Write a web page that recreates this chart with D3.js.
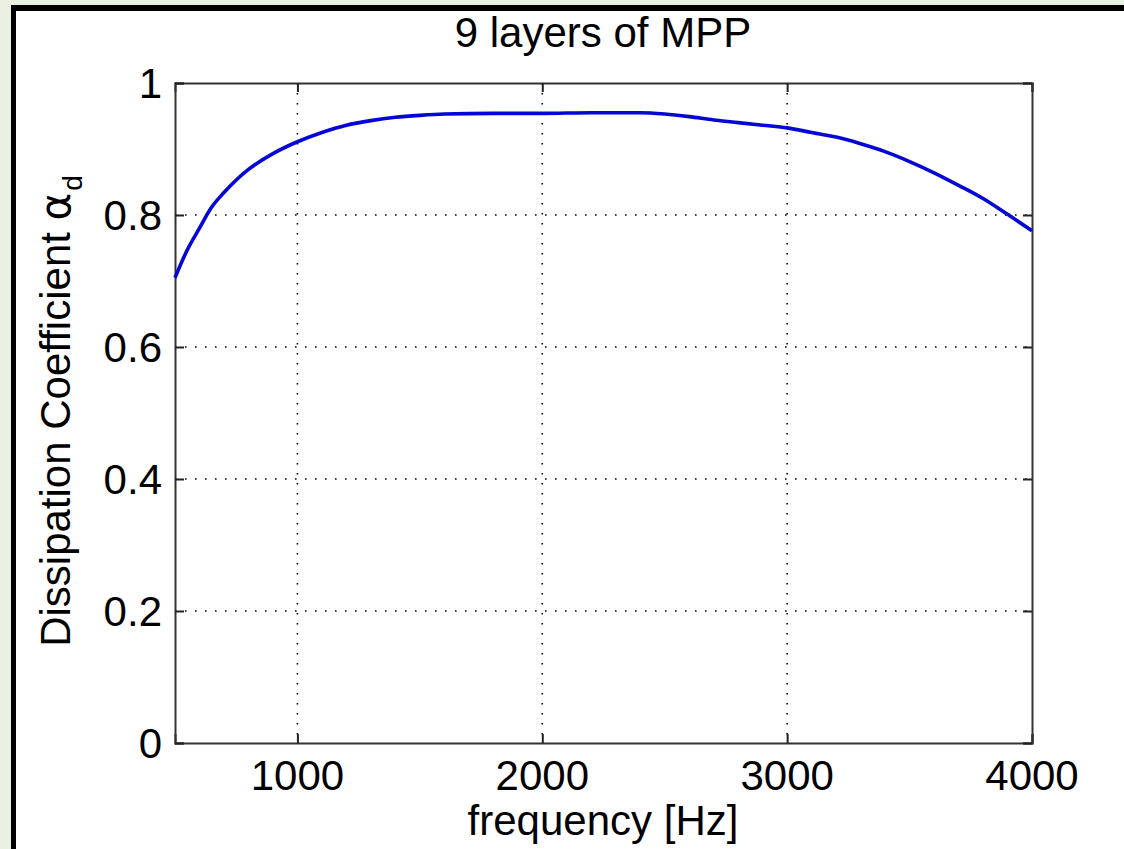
<!DOCTYPE html>
<html>
<head>
<meta charset="utf-8">
<script src="https://cdn.jsdelivr.net/npm/d3@7"></script>
<style>
  html, body { margin: 0; padding: 0; background: #e9f1e2; }
  svg { display: block; }
  text { font-family: Arial, "Liberation Sans", Helvetica, sans-serif; fill: #000; }
</style>
</head>
<body>
<svg id="chart" width="1124" height="849"></svg>
<script>
// Frequency samples [Hz] and dissipation coefficient values
const frequency = [500, 550, 600, 650, 700, 750, 800, 900, 1000, 1100, 1200, 1300, 1400, 1500,
  1600, 1800, 2000, 2200, 2400, 2500, 2600, 2700, 2800, 2900, 3000, 3100, 3200, 3300, 3400,
  3500, 3600, 3700, 3800, 3900, 4000];
const alphaD = [0.705, 0.747, 0.780, 0.812, 0.834, 0.853, 0.869, 0.893, 0.911, 0.925, 0.936,
  0.943, 0.948, 0.951, 0.953, 0.954, 0.954, 0.955, 0.955, 0.953, 0.949, 0.944, 0.940, 0.936,
  0.932, 0.925, 0.918, 0.908, 0.896, 0.881, 0.864, 0.845, 0.825, 0.801, 0.776];

const xTicks = [1000, 2000, 3000, 4000];
const yTicks = [0, 0.2, 0.4, 0.6, 0.8, 1];
const yTickLabels = ["0", "0.2", "0.4", "0.6", "0.8", "1"];

const titleText = "9 layers of MPP";
const xLabel = "frequency [Hz]";

const svg = d3.select("#chart");
const W = 1124, H = 849;

// White figure panel with heavy black frame on top and left
svg.append("rect").attr("x", 0).attr("y", 0).attr("width", W).attr("height", H).attr("fill", "#e9f1e2");
svg.append("rect").attr("x", 16).attr("y", 11).attr("width", W - 16).attr("height", H - 11).attr("fill", "#fff");
svg.append("rect").attr("x", 11).attr("y", 5).attr("width", W - 11).attr("height", 6).attr("fill", "#000");
svg.append("rect").attr("x", 11).attr("y", 5).attr("width", 5).attr("height", H - 5).attr("fill", "#000");

const L = 175, R = 1032, T = 83, B = 743;
const x = d3.scaleLinear().domain([500, 4000]).range([L, R]);
const y = d3.scaleLinear().domain([0, 1]).range([B, T]);

const g = svg.append("g");

// Dotted grid
g.selectAll(".gx").data(xTicks.filter(d => d < 4000)).enter().append("line")
  .attr("x1", d => x(d)).attr("x2", d => x(d)).attr("y1", T).attr("y2", B)
  .attr("stroke", "#000").attr("stroke-width", 1.6).attr("stroke-dasharray", "1.6,8.4");
g.selectAll(".gy").data(yTicks.filter(d => d > 0 && d < 1)).enter().append("line")
  .attr("y1", d => y(d)).attr("y2", d => y(d)).attr("x1", L).attr("x2", R)
  .attr("stroke", "#000").attr("stroke-width", 1.6).attr("stroke-dasharray", "1.6,8.4");

// Axes with inward ticks on all four sides
const tickLen = 9;
const axB = d3.axisBottom(x).tickValues(xTicks).tickSize(-tickLen).tickFormat("");
const axT = d3.axisTop(x).tickValues(xTicks).tickSize(-tickLen).tickFormat("");
const axL = d3.axisLeft(y).tickValues(yTicks).tickSize(-tickLen).tickFormat("");
const axR = d3.axisRight(y).tickValues(yTicks).tickSize(-tickLen).tickFormat("");
[[axB, `translate(0,${B})`], [axT, `translate(0,${T})`], [axL, `translate(${L},0)`], [axR, `translate(${R},0)`]]
  .forEach(([ax, tr]) => {
    const a = g.append("g").attr("transform", tr).call(ax);
    a.select(".domain").attr("stroke", "#333").attr("stroke-width", 2);
    a.selectAll(".tick line").attr("stroke", "#222").attr("stroke-width", 2);
  });

// Curve
const line = d3.line().x((d, i) => x(frequency[i])).y(d => y(d)).curve(d3.curveMonotoneX);
g.append("path").datum(alphaD).attr("d", line)
  .attr("fill", "none").attr("stroke", "#0505d6").attr("stroke-width", 3.6)
  .attr("stroke-linejoin", "round");

// Tick labels
g.selectAll(".xl").data(xTicks).enter().append("text")
  .attr("x", d => x(d)).attr("y", 790).attr("text-anchor", "middle")
  .attr("font-size", 42).text(d => d);
g.selectAll(".yl").data(yTicks).enter().append("text")
  .attr("x", 162).attr("y", d => y(d) + 15).attr("text-anchor", "end")
  .attr("font-size", 42).text((d, i) => yTickLabels[i]);

// Title and axis labels
svg.append("text").attr("x", 603).attr("y", 47).attr("text-anchor", "middle")
  .attr("font-size", 42).text(titleText);
svg.append("text").attr("x", 603).attr("y", 835).attr("text-anchor", "middle")
  .attr("font-size", 42).text(xLabel);

const yl = svg.append("text").attr("transform", `translate(70,${(T + B) / 2 - 2}) rotate(-90)`)
  .attr("text-anchor", "middle").attr("font-size", 42);
yl.append("tspan").text("Dissipation Coefficient  ");
yl.append("tspan").attr("font-family", "'DejaVu Sans', sans-serif").text("α");
yl.append("tspan").attr("font-size", 28).attr("dy", 12).attr("dx", 2).text("d");
</script>
</body>
</html>
